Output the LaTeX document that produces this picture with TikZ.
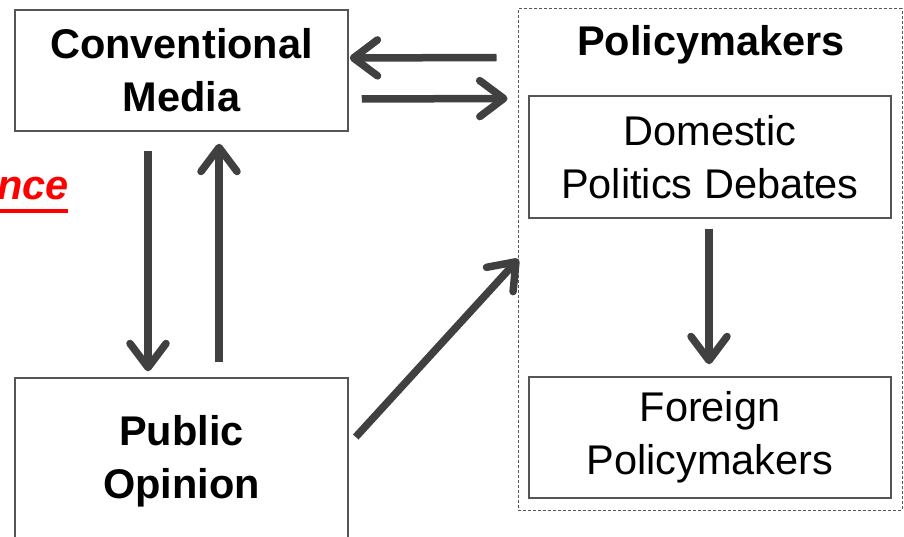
\documentclass[tikz,border=0pt]{standalone}
\usepackage{fontspec}
\setmainfont{Liberation Sans}
\usetikzlibrary{arrows.meta,calc}
\definecolor{arr}{HTML}{404040}
\definecolor{boxc}{HTML}{555555}
\begin{document}
\begin{tikzpicture}[x=1pt,y=-1pt,
  big/.style={font=\fontsize{41.5}{53}\selectfont},
  box/.style={big, draw=boxc, line width=1.5pt, inner sep=0pt, align=center},
  conn/.style={draw=arr, line width=7.5pt, -{Straight Barb[length=24pt,width=36pt,line width=7.5pt,round]}},
]
\clip (0,0) rectangle (904,537);
\fill[white] (0,0) rectangle (904,537);
% policymakers group
\node[draw=boxc, line width=1pt, dash pattern=on 3pt off 2pt, minimum width=384pt, minimum height=501pt, inner sep=0pt] (pol) at (710,259.5) {};
\node[big, font=\fontsize{41.5}{53}\selectfont\bfseries, inner sep=0pt] (poltitle) at (711,45) {Policymakers};
\node[box, minimum width=362pt, minimum height=122pt] (dom) at (710,157) {Domestic\\Politics Debates};
\node[box, minimum width=362pt, minimum height=121pt] (for) at (710,437.5) {Foreign\\Policymakers};
% left boxes
\node[box, font=\fontsize{41.5}{53}\selectfont\bfseries, minimum width=333pt, minimum height=121pt] (cm) at (181.5,70.5) {Conventional\\Media};
\node[box, font=\fontsize{41.5}{53}\selectfont\bfseries, minimum width=333pt, minimum height=167pt] (pub) at (181.5,461.5) {Public\\Opinion};
% red cut-off label
\node[font=\fontsize{41.5}{53}\selectfont\bfseries\itshape, text=red, anchor=base east, inner sep=0pt] (nce) at (69,200) {nce};
\draw[red, line width=3.5pt] (0,211) -- ($(nce.base east)+(-1,11)$);
% connectors
\draw[conn] ($(pol.north west)+(-21,49)$) -- ($(cm.east)+(1,-12.5)$);
\draw[conn] ($(cm.east)+(13,28.5)$) -- ($(pol.north west)+(-10,90)$);
\draw[conn] ($(cm.south)+(-33.5,19)$) -- ($(pub.north)+(-33.5,-6)$);
\draw[conn] ($(pub.north)+(37.5,-15)$) -- ($(cm.south)+(37.5,12)$);
\draw[conn] ($(pub.east)+(7,-24.5)$) -- ($(pol.west)+(1,-0.5)$);
\draw[conn] ($(dom.south)+(-1,10)$) -- ($(for.north)+(-1,-12)$);
\end{tikzpicture}
\end{document}
